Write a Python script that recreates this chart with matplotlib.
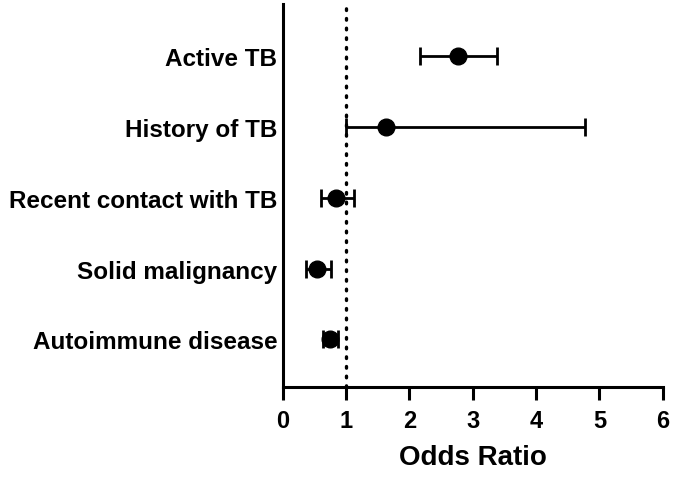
import matplotlib.pyplot as plt
import numpy as np

plt.rcParams['font.family'] = ['Liberation Sans', 'DejaVu Sans']
plt.rcParams['font.weight'] = 'bold'

# data (top to bottom)
labels = ['Active TB', 'History of TB', 'Recent contact with TB',
          'Solid malignancy', 'Autoimmune disease']
odds = [2.77, 1.63, 0.84, 0.54, 0.74]
ci_low = [2.16, 1.00, 0.60, 0.37, 0.63]
ci_high = [3.38, 4.77, 1.13, 0.77, 0.88]
xticks = [0, 1, 2, 3, 4, 5, 6]

odds = np.array(odds)
lo = odds - np.array(ci_low)
hi = np.array(ci_high) - odds
y = np.arange(len(labels))[::-1]

fig = plt.figure(figsize=(6.85, 4.81), dpi=100)
ax = fig.add_axes([0.4127, 0.1933, 0.9675 - 0.4127, 0.9896 - 0.1933])

ax.axvline(1, color='black', linestyle=(0, (0.5, 2.4)), linewidth=2.4,
           dash_capstyle='round', zorder=1)
ax.errorbar(odds, y, xerr=[lo, hi], fmt='o', color='black', ecolor='black',
            markersize=12, elinewidth=2, capsize=6.5, capthick=2, zorder=3)

ax.set_xlim(0, 6)
ax.set_ylim(-0.67, len(labels) - 1 + 0.73)
ax.set_xticks(xticks)
ax.set_yticks(y)
ax.set_yticklabels(labels, fontsize=17.5, fontweight='bold')
ax.tick_params(axis='y', length=0, pad=4)
ax.tick_params(axis='x', length=9, width=2.2, labelsize=17, pad=6.5)
for t in ax.get_xticklabels():
    t.set_fontweight('bold')
ax.set_xlabel('Odds Ratio', fontsize=20, fontweight='bold', labelpad=9)

for s in ['top', 'right']:
    ax.spines[s].set_visible(False)
for s in ['left', 'bottom']:
    ax.spines[s].set_linewidth(2.2)

fig.savefig('out.png', dpi=100)
